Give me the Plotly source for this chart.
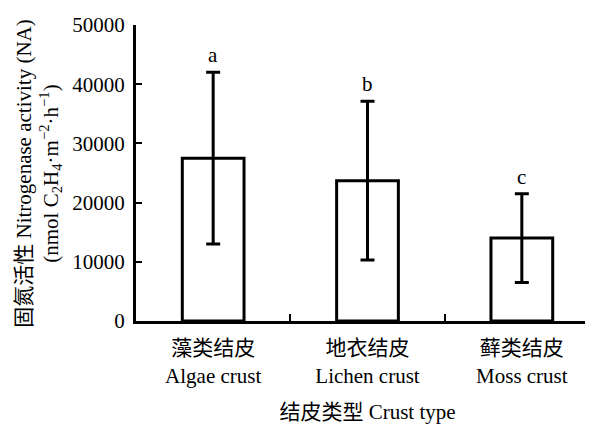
import plotly.graph_objects as go

categories = ["藻类结皮<br>Algae crust", "地衣结皮<br>Lichen crust", "藓类结皮<br>Moss crust"]
means = [27500, 23700, 14000]
errors = [14500, 13400, 7500]
letters = ["a", "b", "c"]
y_ticks = [0, 10000, 20000, 30000, 40000, 50000]
y_ticktext = ["0", "10000", "20000", "30000", "40000", "50000"]

SERIF = "Times New Roman, Liberation Serif, Noto Sans CJK SC, serif"
FS = 21

fig = go.Figure()
fig.add_trace(go.Bar(
    x=categories, y=means, width=0.4,
    marker=dict(color="white", line=dict(color="black", width=3)),
    error_y=dict(type="data", array=errors, visible=True, color="black", thickness=3, width=7),
    showlegend=False,
))

for c, m, e, l in zip(categories, means, errors, letters):
    fig.add_annotation(x=c, y=m + e, text=l, showarrow=False, yanchor="bottom", yshift=3,
                       font=dict(family=SERIF, size=FS, color="black"))

fig.add_annotation(
    xref="paper", yref="paper", x=-0.21, y=0.5, xanchor="center", yanchor="middle",
    text="固氮活性 Nitrogenase activity (NA)<br>(nmol C<sub>2</sub>H<sub>4</sub>·m<sup>−2</sup>·h<sup>−1</sup>)",
    textangle=-90, showarrow=False, font=dict(family=SERIF, size=FS, color="black"),
)

fig.update_layout(
    width=593, height=425,
    margin=dict(l=128, r=2, t=17, b=112),
    plot_bgcolor="white", paper_bgcolor="white",
    font=dict(family=SERIF, size=FS, color="black"),
    bargap=0.6,
    xaxis=dict(
        showline=True, linecolor="black", linewidth=3,
        ticks="inside", tickson="boundaries", ticklen=7, tickwidth=2, tickcolor="black",
        title=dict(text="结皮类型 Crust type", standoff=18, font=dict(family=SERIF, size=FS)),
        tickfont=dict(family=SERIF, size=FS), showgrid=False, ticklabelstandoff=6,
    ),
    yaxis=dict(
        range=[0, 50000], tickvals=y_ticks, ticktext=y_ticktext,
        showline=True, linecolor="black", linewidth=3,
        ticks="inside", ticklen=6, tickwidth=2, tickcolor="black", showgrid=False, zeroline=False,
        tickfont=dict(family=SERIF, size=FS), ticklabelstandoff=4,
    ),
)

fig.write_html("out.html")
